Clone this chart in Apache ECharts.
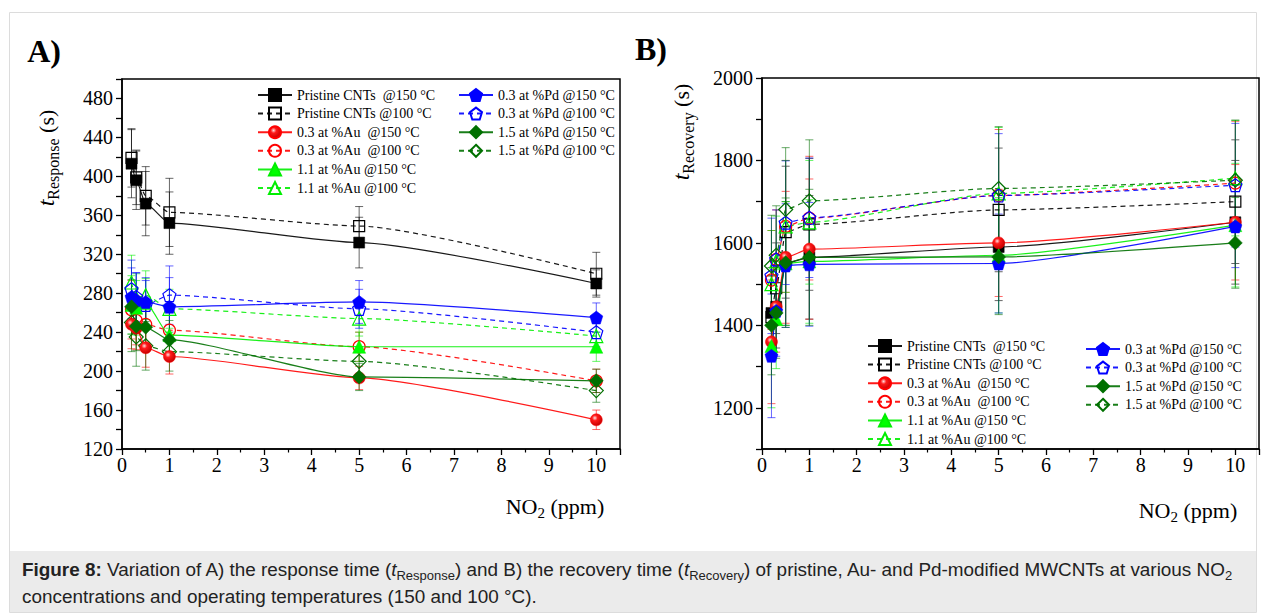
<!DOCTYPE html>
<html>
<head>
<meta charset="utf-8">
<script src="https://cdn.jsdelivr.net/npm/echarts@6/dist/echarts.min.js"></script>
<style>
  html, body { margin: 0; padding: 0; background: #fff; }
  #chart { position: absolute; left: 0; top: 0; width: 1265px; height: 615px; }
  #caption { position: absolute; left: 10px; top: 551px; width: 1246px; height: 61px; background: #ebebeb;
             font-family: "Liberation Sans", Arial, sans-serif; font-size: 18.9px; color: #222; }
  #caption .inner { position: absolute; left: 12px; top: 5px; line-height: 27px; white-space: nowrap; }
  #caption sub { font-size: 13px; vertical-align: -4px; line-height: 0; }
</style>
</head>
<body>
<div id="chart"></div>
<div id="caption"><div class="inner"><b>Figure 8:</b> Variation of A) the response time (<i>t</i><sub>Response</sub>) and B) the recovery time (<i>t</i><sub>Recovery</sub>) of pristine, Au- and Pd-modified MWCNTs at various NO<sub>2</sub><br>concentrations and operating temperatures (150 and 100 °C).</div></div>
<script>
// ---------------- DATA ----------------
const xVals = [0.2, 0.3, 0.5, 1, 5, 10];
const seriesNames = [
  'Pristine CNTs\u00a0\u00a0@150 °C', 'Pristine CNTs @100 °C',
  '0.3 at %Au\u00a0\u00a0@150 °C', '0.3 at %Au\u00a0\u00a0@100 °C',
  '1.1 at %Au @150 °C', '1.1 at %Au @100 °C',
  '0.3 at %Pd @150 °C', '0.3 at %Pd @100 °C',
  '1.5 at %Pd @150 °C', '1.5 at %Pd @100 °C'
];
// Panel A: response time (s)
const respPristine150 = [413, 396, 372, 352, 332, 290];
const respPristine100 = [419, 399, 380, 363, 349, 300];
const respAu03_150   = [248, 244, 224, 215, 193, 150];
const respAu03_100   = [263, 252, 248, 242, 225, 190];
const respAu11_150   = [268, 265, 270, 237, 225, 225];
const respAu11_100   = [291, 275, 278, 264, 254, 236];
const respPd03_150   = [276, 273, 271, 266, 271, 255];
const respPd03_100   = [284, 276, 268, 278, 264, 240];
const respPd15_150   = [266, 246, 245, 232, 194, 190];
const respPd15_100   = [250, 235, 226, 220, 210, 180];
// Panel A error bars (±s)
const respErrPristine150 = [35, 30, 33, 32, 26, 14];
const respErrPristine100 = [30, 28, 30, 35, 20, 22];
const respErrAu03_150   = [25, 22, 20, 18, 12, 10];
const respErrAu03_100   = [30, 25, 25, 22, 15, 12];
const respErrAu11_150   = [30, 28, 25, 25, 15, 15];
const respErrAu11_100   = [28, 25, 25, 20, 18, 15];
const respErrPd03_150   = [30, 28, 25, 30, 22, 15];
const respErrPd03_100   = [30, 25, 25, 30, 20, 15];
const respErrPd15_150   = [28, 25, 25, 20, 14, 12];
const respErrPd15_100   = [30, 30, 25, 20, 15, 12];
// Panel B: recovery time (s)
const recPristine150 = [1430, 1445, 1550, 1565, 1590, 1650];
const recPristine100 = [1420, 1490, 1626, 1645, 1680, 1700];
const recAu03_150   = [1360, 1445, 1565, 1585, 1600, 1650];
const recAu03_100   = [1510, 1560, 1640, 1660, 1715, 1745];
const recAu11_150   = [1350, 1415, 1550, 1555, 1570, 1643];
const recAu11_100   = [1500, 1555, 1640, 1650, 1720, 1757];
const recPd03_150   = [1326, 1435, 1545, 1548, 1550, 1640];
const recPd03_100   = [1520, 1560, 1649, 1661, 1715, 1740];
const recPd15_150   = [1400, 1430, 1552, 1565, 1566, 1600];
const recPd15_100   = [1544, 1570, 1681, 1702, 1732, 1752];
// Panel B error bars (±s)
const recErrPristine150 = [110, 100, 150, 150, 130, 150];
const recErrPristine100 = [100, 110, 160, 160, 150, 150];
const recErrAu03_150   = [150, 110, 160, 170, 130, 140];
const recErrAu03_100   = [120, 120, 160, 150, 160, 150];
const recErrAu11_150   = [150, 120, 150, 150, 140, 150];
const recErrAu11_100   = [130, 110, 160, 150, 160, 140];
const recErrPd03_150   = [150, 110, 150, 150, 120, 100];
const recErrPd03_100   = [140, 120, 150, 145, 150, 150];
const recErrPd15_150   = [120, 110, 157, 165, 140, 110];
const recErrPd15_100   = [123, 120, 150, 148, 150, 146];
// Axis tick settings
const yTicksA = { min: 120, max: 500, step: 20, labelStep: 40, labelMax: 480 };
const yTicksB = { min: 1100, max: 2000, step: 100, labelStep: 200 };
const xTicks = { min: 0, max: 10.5, step: 1 };

// ---------------- STYLES ----------------
const serif = 'Liberation Serif, Times New Roman, serif';
const pentagon = 'path://M0,-10 L9.51,-3.09 L5.88,8.09 L-5.88,8.09 L-9.51,-3.09 Z';
const redBall = { type: 'radial', x: 0.38, y: 0.35, r: 0.65,
  colorStops: [{ offset: 0, color: '#ffe0e0' }, { offset: 0.35, color: '#ff1a1a' }, { offset: 1, color: '#c80000' }] };
const styles = [
  { color: '#000000', symbol: 'rect', size: 11, fill: '#000000', dashed: false },
  { color: '#000000', symbol: 'rect', size: 11, fill: 'none', dashed: true },
  { color: '#ff0000', symbol: 'circle', size: 12, fill: redBall, dashed: false },
  { color: '#ff0000', symbol: 'circle', size: 12, fill: 'none', dashed: true },
  { color: '#00ee00', symbol: 'triangle', size: 13, fill: '#00ff00', dashed: false },
  { color: '#00ee00', symbol: 'triangle', size: 13, fill: 'none', dashed: true },
  { color: '#0000ff', symbol: pentagon, size: 13, fill: '#0000ff', dashed: false },
  { color: '#0000ff', symbol: pentagon, size: 13, fill: 'none', dashed: true },
  { color: '#007000', symbol: 'diamond', size: 14, fill: '#007000', dashed: false },
  { color: '#007000', symbol: 'diamond', size: 14, fill: 'none', dashed: true }
];
const respData = [respPristine150, respPristine100, respAu03_150, respAu03_100, respAu11_150, respAu11_100,
                  respPd03_150, respPd03_100, respPd15_150, respPd15_100];
const respErr = [respErrPristine150, respErrPristine100, respErrAu03_150, respErrAu03_100, respErrAu11_150,
                 respErrAu11_100, respErrPd03_150, respErrPd03_100, respErrPd15_150, respErrPd15_100];
const recData = [recPristine150, recPristine100, recAu03_150, recAu03_100, recAu11_150, recAu11_100,
                 recPd03_150, recPd03_100, recPd15_150, recPd15_100];
const recErr = [recErrPristine150, recErrPristine100, recErrAu03_150, recErrAu03_100, recErrAu11_150,
                recErrAu11_100, recErrPd03_150, recErrPd03_100, recErrPd15_150, recErrPd15_100];

function errRender(color) {
  return function (params, api) {
    const x = api.value(0), lo = api.value(1), hi = api.value(2);
    const a = api.coord([x, hi]), b = api.coord([x, lo]);
    const w = 4;
    const st = { stroke: color, lineWidth: 1, opacity: 0.6 };
    return { type: 'group', children: [
      { type: 'line', shape: { x1: a[0], y1: a[1], x2: b[0], y2: b[1] }, style: st },
      { type: 'line', shape: { x1: a[0] - w, y1: a[1], x2: a[0] + w, y2: a[1] }, style: st },
      { type: 'line', shape: { x1: b[0] - w, y1: b[1], x2: b[0] + w, y2: b[1] }, style: st }
    ] };
  };
}

const series = [];
function addPanel(dataSets, errSets, axisIdx, tag) {
  dataSets.forEach((vals, i) => {
    const s = styles[i];
    series.push({
      type: 'custom', name: 'err' + tag + i, xAxisIndex: axisIdx, yAxisIndex: axisIdx,
      renderItem: errRender(s.color), z: 1, silent: true,
      encode: { x: 0, y: [1, 2] },
      data: xVals.map((x, k) => [x, vals[k] - errSets[i][k], vals[k] + errSets[i][k]])
    });
  });
  dataSets.forEach((vals, i) => {
    const s = styles[i];
    const open = s.fill === 'none';
    series.push({
      type: 'line', name: seriesNames[i], xAxisIndex: axisIdx, yAxisIndex: axisIdx, z: 3 + (open ? 0 : 1),
      data: xVals.map((x, k) => [x, vals[k]]),
      smooth: 0.2, smoothMonotone: 'x',
      symbol: s.symbol, symbolSize: s.size, showAllSymbol: true,
      lineStyle: { color: s.color, width: 1.2, type: s.dashed ? [5, 4] : 'solid', opacity: 0.9 },
      itemStyle: { color: open ? 'rgba(255,255,255,0)' : s.fill, borderColor: s.color, borderWidth: open ? 1.2 : 0.5 },
      emphasis: { disabled: true }
    });
  });
}
addPanel(respData, respErr, 0, 'A');
addPanel(recData, recErr, 1, 'B');

const axisLabelStyle = { fontFamily: serif, fontSize: 20, color: '#000' };
function xAxis(gridIndex) {
  return {
    type: 'value', gridIndex, min: xTicks.min, max: xTicks.max, interval: xTicks.step,
    axisLine: { show: true, lineStyle: { color: '#000', width: 1.5 } },
    axisTick: { show: true, length: 6, lineStyle: { color: '#000', width: 1.3 } },
    minorTick: { show: true, splitNumber: 2, length: 3.5, lineStyle: { color: '#000', width: 1.2 } },
    splitLine: { show: false },
    axisLabel: { ...axisLabelStyle, margin: 6, formatter: v => Number.isInteger(v) ? String(v) : '' }
  };
}
function yAxis(gridIndex, t) {
  return {
    type: 'value', gridIndex, min: t.min, max: t.max, interval: t.step,
    axisLine: { show: true, lineStyle: { color: '#000', width: 1.5 } },
    axisTick: { show: true, length: 6, lineStyle: { color: '#000', width: 1.3 } },
    splitLine: { show: false },
    axisLabel: { ...axisLabelStyle, margin: 9,
      formatter: v => (((v - (t.labelStep === 40 ? t.min : 0)) % t.labelStep === 0) && (!t.labelMax || v <= t.labelMax)) ? String(v) : '' }
  };
}

const legendText = { fontFamily: serif, fontSize: 14, color: '#000', lineHeight: 14 };
function legend(left, top, names) {
  return { orient: 'vertical', left, top, padding: 0, itemWidth: 34, itemHeight: 15, itemGap: 4.6,
           textStyle: legendText, selectedMode: false, data: names };
}

const subRich = {
  it: { fontFamily: serif, fontSize: 24, fontStyle: 'italic', color: '#000', lineHeight: 30 },
  n: { fontFamily: serif, fontSize: 22, color: '#000', lineHeight: 30 },
  sub: { fontFamily: serif, fontSize: 16, color: '#000', lineHeight: 30, verticalAlign: 'bottom', padding: [12, 0, 0, 0] }
};
const subRichX = {
  n: { fontFamily: serif, fontSize: 22, color: '#000', lineHeight: 28 },
  sub: { fontFamily: serif, fontSize: 15, color: '#000', lineHeight: 28, verticalAlign: 'bottom', padding: [10, 0, 0, 0] }
};

const option = {
  animation: false,
  backgroundColor: '#ffffff',
  grid: [
    { left: 122, top: 79, width: 498, height: 370, show: true, borderColor: '#000', borderWidth: 1.5, backgroundColor: 'transparent' },
    { left: 762, top: 78, width: 497, height: 371, show: true, borderColor: '#000', borderWidth: 1.5, backgroundColor: 'transparent' }
  ],
  xAxis: [xAxis(0), xAxis(1)],
  yAxis: [yAxis(0, yTicksA), yAxis(1, yTicksB)],
  legend: [
    legend(257, 88, seriesNames.slice(0, 6)),
    legend(458, 88, seriesNames.slice(6)),
    legend(867, 339, seriesNames.slice(0, 6)),
    legend(1085, 342, seriesNames.slice(6))
  ],
  graphic: [
    { type: 'rect', shape: { x: 9.5, y: 12.5, width: 1247, height: 600 }, style: { fill: 'none', stroke: '#dcdcdc', lineWidth: 1 }, z: -10 },
    { type: 'text', x: 44, y: 51, style: { text: 'A)', font: 'bold 32px ' + serif, fill: '#000', align: 'center', verticalAlign: 'middle' } },
    { type: 'text', x: 651, y: 49, style: { text: 'B)', font: 'bold 32px ' + serif, fill: '#000', align: 'center', verticalAlign: 'middle' } },
    { type: 'text', x: 46, y: 158, rotation: Math.PI / 2,
      style: { text: '{it|t}{sub|Response}{n| (s)}', rich: subRich, align: 'center', verticalAlign: 'middle' } },
    { type: 'text', x: 681, y: 132, rotation: Math.PI / 2,
      style: { text: '{it|t}{sub|Recovery}{n| (s)}', rich: subRich, align: 'center', verticalAlign: 'middle' } },
    { type: 'text', x: 555, y: 506,
      style: { text: '{n|NO}{sub|2}{n| (ppm)}', rich: subRichX, align: 'center', verticalAlign: 'middle' } },
    { type: 'text', x: 1188, y: 510,
      style: { text: '{n|NO}{sub|2}{n| (ppm)}', rich: subRichX, align: 'center', verticalAlign: 'middle' } }
  ],
  series
};
const chart = echarts.init(document.getElementById('chart'), null, { renderer: 'svg' });
chart.setOption(option);
</script>
</body>
</html>
